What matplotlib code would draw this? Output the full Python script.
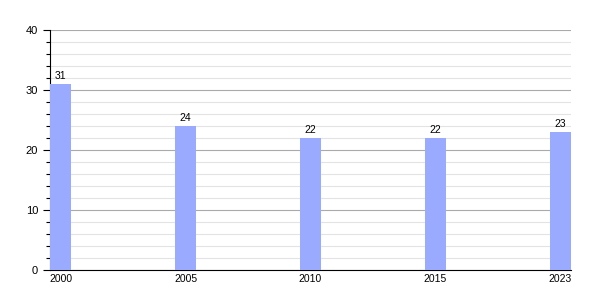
import matplotlib.pyplot as plt
from matplotlib.ticker import MultipleLocator

plt.rcParams['font.family'] = ['Liberation Sans', 'DejaVu Sans']

years = ["2000", "2005", "2010", "2015", "2023"]
values = [31, 24, 22, 22, 23]

fig = plt.figure(figsize=(6, 3), dpi=100)
ax = fig.add_axes([50 / 600, 30 / 300, 521 / 600, 240 / 300])

x = list(range(len(years)))
bar_w = 0.168
ax.bar(x, values, width=bar_w, color="#99aaff", zorder=3)

for xi, v in zip(x, values):
    ax.text(xi, v + 0.5, str(v), ha="center", va="bottom", fontsize=7.5, color="black")

ax.set_xlim(-bar_w / 2, len(years) - 1 + bar_w / 2)
ax.set_ylim(0, 40)
ax.set_xticks(x)
ax.set_xticklabels(years)
ax.yaxis.set_major_locator(MultipleLocator(10))
ax.yaxis.set_minor_locator(MultipleLocator(2))

# grid: darker every 10, faint every 2
ax.grid(True, which="major", axis="y", color="#aaaaaa", linewidth=0.8, zorder=0)
ax.grid(True, which="minor", axis="y", color="#e3e3e3", linewidth=0.8, zorder=0)

for s in ["top", "right"]:
    ax.spines[s].set_visible(False)
ax.spines["left"].set_linewidth(0.8)
ax.spines["bottom"].set_linewidth(0.8)

ax.tick_params(axis="x", length=0, labelsize=7.5, pad=3)
ax.tick_params(axis="y", which="major", length=5, width=0.8, labelsize=8)
ax.tick_params(axis="y", which="minor", length=3, width=0.8)

fig.savefig("out.png", dpi=100)
